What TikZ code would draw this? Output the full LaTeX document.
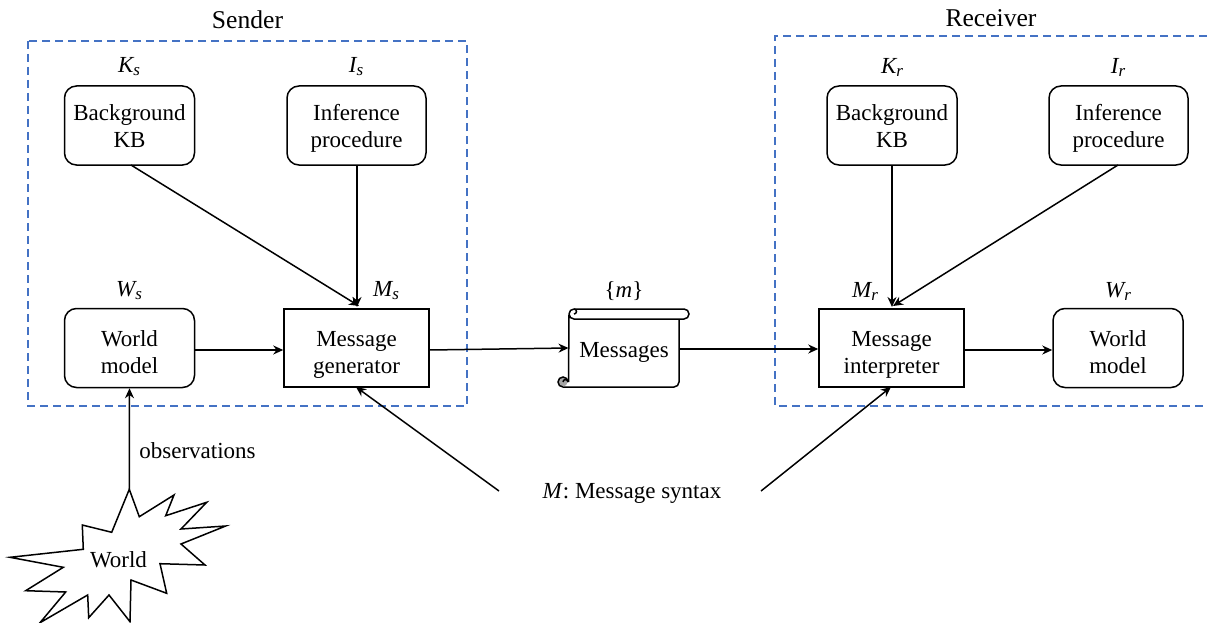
\documentclass[tikz,border=0pt]{standalone}
\usepackage{fontspec}
\setmainfont{Liberation Serif}
\usetikzlibrary{arrows.meta}
\definecolor{dashblue}{RGB}{68,114,196}
\tikzset{
  every node/.style={font=\fontsize{23}{27.5}\selectfont, align=center, inner sep=0pt},
  rbox/.style={draw, line width=1.5pt, rounded corners=12pt, minimum height=79pt},
  sbox/.style={draw, line width=1.5pt, minimum width=145pt, minimum height=78pt},
  group/.style={draw=dashblue, line width=1.5pt, dash pattern=on 8pt off 5pt},
  conn/.style={line width=1.5pt, -{Stealth[length=10pt,width=9pt]}},
  plain/.style={line width=1.5pt},
  lbl/.style={font=\fontsize{23}{27.5}\selectfont\itshape},
  head/.style={font=\fontsize{25.6}{30}\selectfont}
}
\newcommand{\subs}[2]{#1\raisebox{-3pt}{\fontsize{17}{17}\selectfont #2}}
\newcommand{\uptwo}[2]{\rule{0pt}{22.5pt}#1\\#2\rule[-6pt]{0pt}{6pt}}
\newcommand{\lowtwo}[2]{\rule{0pt}{29.5pt}#1\\#2\rule[-6pt]{0pt}{6pt}}
\begin{document}
\begin{tikzpicture}[x=1pt,y=-1pt]
\useasboundingbox (0,0) rectangle (1207,623);
% groups
\draw[group] (28,41) rectangle (467,406);
\draw[group] (1207,36) -- (775,36) -- (775,406) -- (1207,406);
\node[head] (sender) at (247.5,20) {Sender};
\node[head] (receiver) at (991,18) {Receiver};
% sender
\node[rbox,minimum width=130pt] (ks) at (129.5,125.5) {\uptwo{Background}{KB}};
\node[rbox,minimum width=139pt] (is) at (356.5,125.5) {\uptwo{Inference}{procedure}};
\node[rbox,minimum width=130pt] (ws) at (129.5,348) {\lowtwo{World}{model}};
\node[sbox] (ms) at (356.5,348) {\lowtwo{Message}{generator}};
% receiver
\node[rbox,minimum width=130pt] (kr) at (892,125.5) {\uptwo{Background}{KB}};
\node[rbox,minimum width=139pt] (ir) at (1118.5,125.5) {\uptwo{Inference}{procedure}};
\node[sbox] (mr) at (891.5,348) {\lowtwo{Message}{interpreter}};
\node[rbox,minimum width=130pt] (wr) at (1118,348) {\lowtwo{World}{model}};
% labels
\node[lbl] (lks) at (129,67) {\subs{K}{s}};
\node[lbl] (lis) at (356,67) {\subs{I}{s}};
\node[lbl] (lws) at (129,291) {\subs{W}{s}};
\node[lbl] (lms) at (386,291) {\subs{M}{s}};
\node[lbl] (lkr) at (892,67) {\subs{K}{r}};
\node[lbl] (lir) at (1118,67) {\subs{I}{r}};
\node[lbl] (lmr) at (865,291) {\subs{M}{r}};
\node[lbl] (lwr) at (1118,291) {\subs{W}{r}};
\node (lm) at (624,291) {\{\textit{m}\}};
% scroll
\draw[plain] (563,387) -- (674,387) arc[start angle=90,end angle=0,radius=5] -- (679,319);
\draw[plain] (568.5,382) -- (569,314) arc[start angle=180,end angle=270,radius=5] -- (684,309)
  arc[start angle=-90,end angle=90,radius=5] -- (574,319) arc[start angle=90,end angle=180,radius=5];
\draw[plain,fill=gray!60] (574,309) arc[start angle=-90,end angle=90,radius=2.5] arc[start angle=90,end angle=-90,radius=2.5];
\fill[gray!70] (563,382) circle[radius=4.5];
\draw[plain] (563,387) arc[start angle=90,end angle=360,radius=5];
\draw[plain,fill=white] (568,382) arc[start angle=0,end angle=-180,radius=2.5] arc[start angle=180,end angle=360,radius=2.5];
\node (msg) at (624,352) {Messages};
\coordinate (msgw) at (568.5,348);
\coordinate (msge) at (679,349);
% world
\draw[plain,line join=miter] (129.3,489.3) -- (139.3,516.7) -- (174,495) -- (165.7,515.7) -- (206.7,502.3) -- (181,529) -- (225.7,526) -- (181,544) -- (205,565) -- (160,563.7) -- (166.7,593.3) -- (131,580) -- (130,621.7) -- (109,595) -- (88.7,617.7) -- (87.7,595) -- (40,622.7) -- (65.7,592) -- (25.7,590.7) -- (63.3,567.3) -- (10,557.3) -- (83.3,549.3) -- (82.3,525) -- (111.7,532.3) -- cycle;
\node (world) at (118.5,560) {World};
\coordinate (wtop) at (129.3,489.3);
\node (obs) at (197.5,451) {observations};
\node (syntax) at (632,493) {\textit{M}: Message syntax};
\coordinate (sl) at (499,491);
\coordinate (sr) at (761,491);
% connectors
\draw[conn] (wtop) -- (ws.south);
\draw[conn] (131,165) -- (359,306);
\draw[conn] (357,165) -- (357,307);
\draw[conn] ([yshift=-2pt]ws.east) -- ([yshift=-2pt]ms.west);
\draw[conn] ([yshift=-2pt]ms.east) -- (msgw);
\draw[conn] (msge) -- ([yshift=-1pt]mr.west);
\draw[conn] (892,165) -- (892,307);
\draw[conn] (1118,165) -- (893,306);
\draw[conn] ([yshift=-2pt]mr.east) -- ([yshift=-2pt]wr.west);
\draw[conn] (sl) -- (356,387);
\draw[conn] (sr) -- (891,387);
\end{tikzpicture}
\end{document}
